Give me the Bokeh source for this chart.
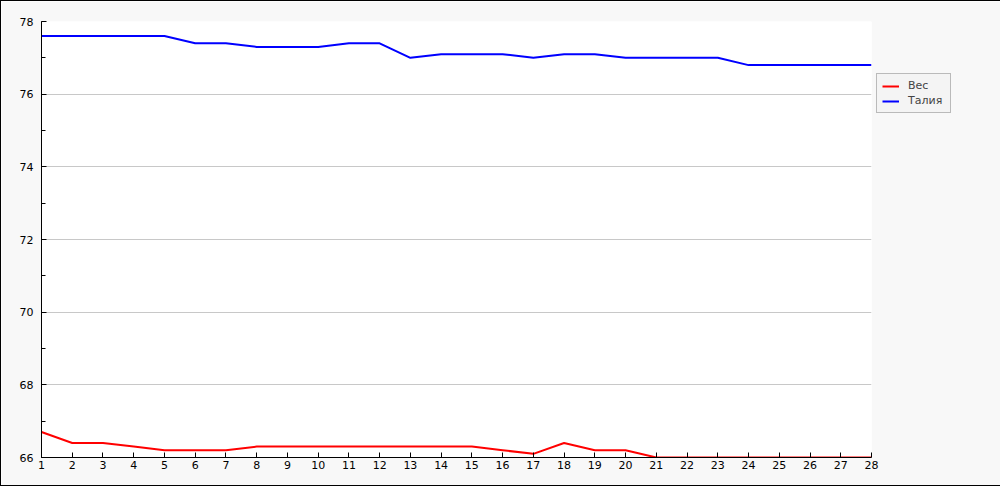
from bokeh.plotting import figure
from bokeh.models import Range1d, FixedTicker, Legend, LegendItem, ColumnDataSource
from bokeh.embed import file_html
from bokeh.resources import INLINE

days = list(range(1, 29))
weight = [66.7, 66.4, 66.4, 66.3, 66.2, 66.2, 66.2, 66.3, 66.3, 66.3, 66.3, 66.3, 66.3, 66.3,
          66.3, 66.2, 66.1, 66.4, 66.2, 66.2, 66.0, 66.0, 66.0, 66.0, 66.0, 66.0, 66.0, 66.0]
waist = [77.6, 77.6, 77.6, 77.6, 77.6, 77.4, 77.4, 77.3, 77.3, 77.3, 77.4, 77.4, 77.0, 77.1,
         77.1, 77.1, 77.0, 77.1, 77.1, 77.0, 77.0, 77.0, 77.0, 76.8, 76.8, 76.8, 76.8, 76.8]
y_ticks = [66, 68, 70, 72, 74, 76, 78]
series_names = ["Вес", "Талия"]
series_colors = ["#ff0000", "#0000ff"]

src = ColumnDataSource(dict(day=days, weight=weight, waist=waist))

p = figure(frame_width=830, frame_height=436, output_backend="svg", toolbar_location=None,
           x_range=Range1d(1, 28), y_range=Range1d(66, 78),
           min_border_left=40, min_border_top=20, min_border_right=100, min_border_bottom=28)
p.background_fill_color = "white"
p.border_fill_color = "#f8f8f8"
p.outline_line_color = None

r1 = p.line("day", "weight", source=src, color=series_colors[0], line_width=2)
r2 = p.line("day", "waist", source=src, color=series_colors[1], line_width=2)

p.xgrid.grid_line_color = None
p.ygrid.grid_line_color = "#c8c8c8"
p.ygrid.ticker = FixedTicker(ticks=y_ticks)

font = "DejaVu Sans"
for ax in (p.xaxis[0], p.yaxis[0]):
    ax.axis_line_color = "black"
    ax.major_tick_line_color = "black"
    ax.minor_tick_line_color = "black"
    ax.major_tick_in = 5
    ax.major_tick_out = 0
    ax.minor_tick_in = 4
    ax.minor_tick_out = 0
    ax.major_label_text_font = font
    ax.major_label_text_font_size = "11px"
    ax.major_label_text_color = "black"

p.xaxis[0].ticker = FixedTicker(ticks=days)
p.xaxis[0].major_label_standoff = 3
p.yaxis[0].ticker = FixedTicker(ticks=y_ticks, minor_ticks=list(range(66, 79)))
p.yaxis[0].major_label_standoff = 8

legend = Legend(items=[LegendItem(label=series_names[0], renderers=[r1]),
                       LegendItem(label=series_names[1], renderers=[r2])],
                location=(5, 344))
legend.background_fill_color = "#f4f4f4"
legend.background_fill_alpha = 1
legend.border_line_color = "#808080"
legend.label_text_font = font
legend.label_text_font_size = "11px"
legend.glyph_width = 17
legend.glyph_height = 12
legend.label_height = 12
legend.spacing = 2
legend.padding = 5
legend.margin = 0
legend.label_standoff = 9
legend.label_width = 37
p.add_layout(legend, "right")

p.styles = {"border": "1px solid black", "box-sizing": "border-box"}

open("out.html", "w").write(file_html(p, INLINE))
